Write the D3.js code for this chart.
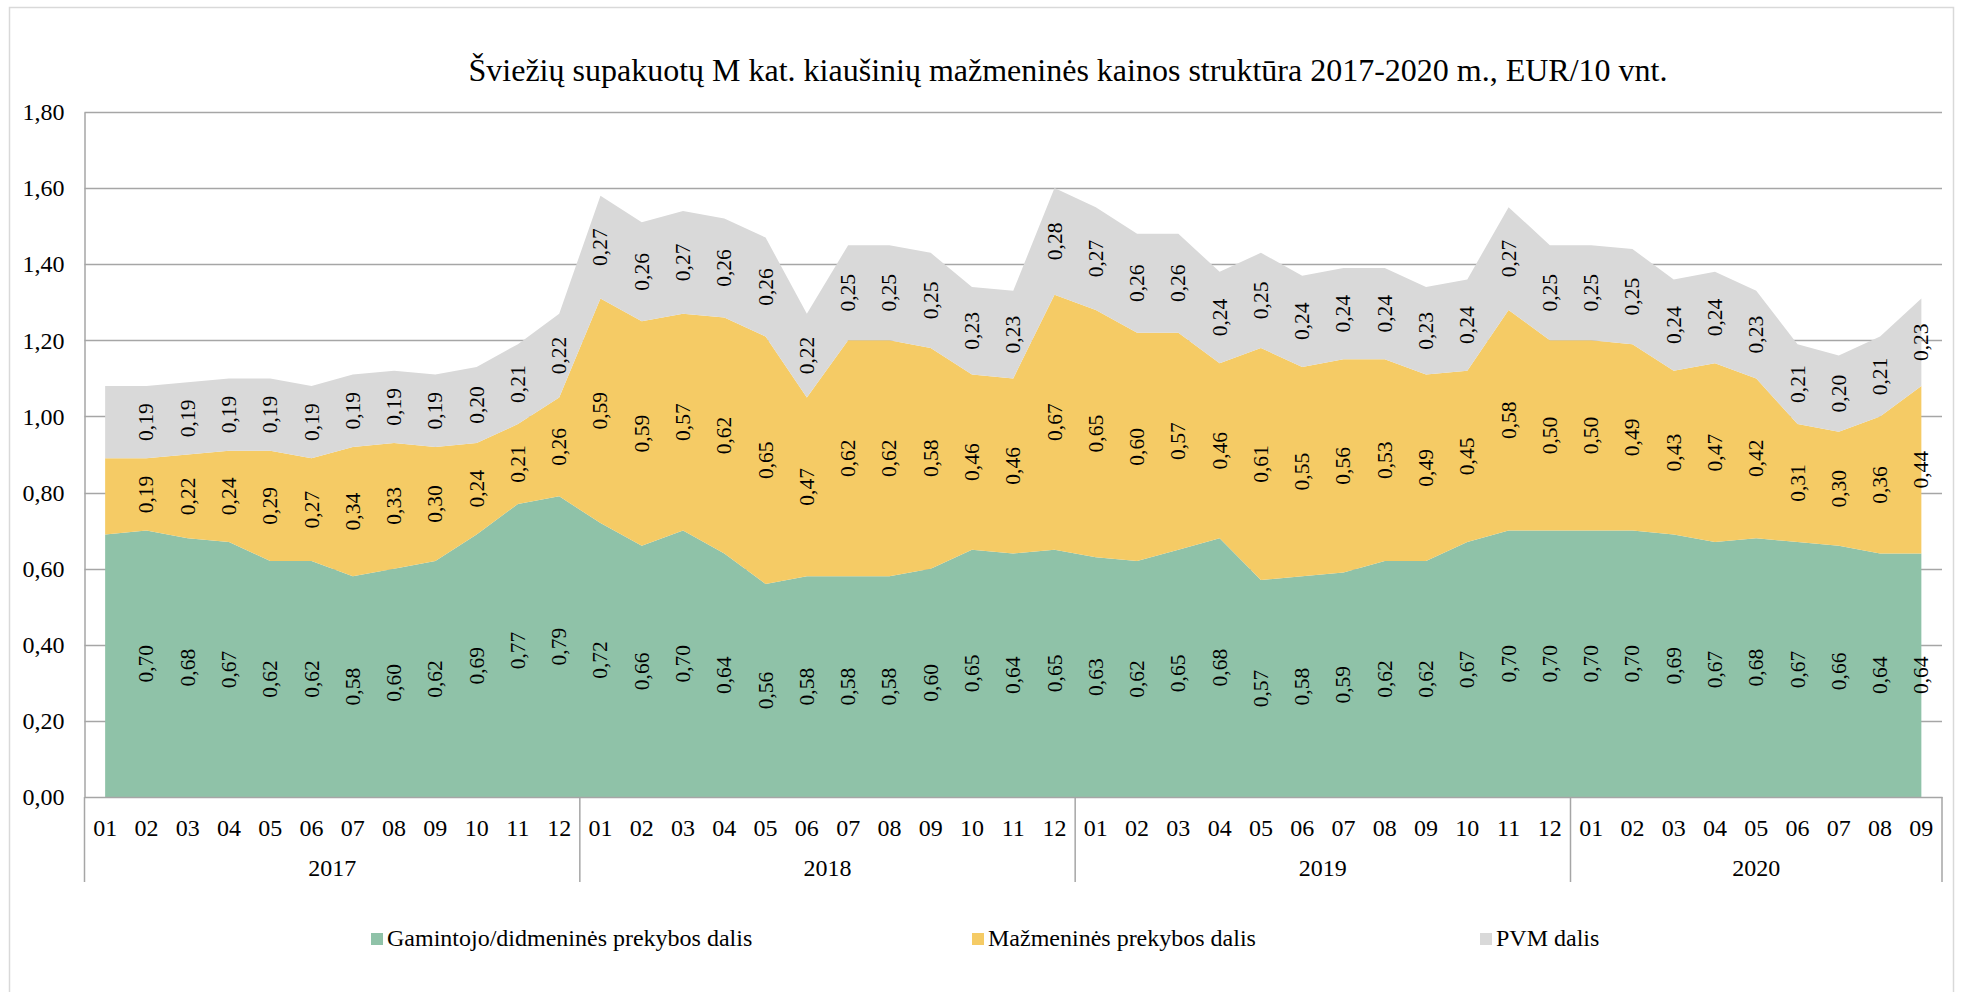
<!DOCTYPE html>
<html>
<head>
<meta charset="utf-8">
<script src="https://cdn.jsdelivr.net/npm/d3@7/dist/d3.min.js"></script>
<style>
  html, body { margin: 0; padding: 0; background: #fff; }
  svg { display: block; font-family: "Liberation Serif", "Times New Roman", serif; }
</style>
</head>
<body>
<svg id="chart" width="1961" height="992"></svg>
<script>
const title = "Šviežių supakuotų M kat. kiaušinių mažmeninės kainos struktūra 2017-2020 m., EUR/10 vnt.";
const years = ["2017", "2018", "2019", "2020"];
const monthsPerYear = [12, 12, 12, 9];
const monthLabels = ["01","02","03","04","05","06","07","08","09","10","11","12"];
const yTicks = [0, 0.2, 0.4, 0.6, 0.8, 1.0, 1.2, 1.4, 1.6, 1.8];
const seriesNames = ["Gamintojo/didmeninės prekybos dalis", "Mažmeninės prekybos dalis", "PVM dalis"];
const seriesColors = ["#8FC2A8", "#F5CB65", "#D9D9D9"];

const producer = [0.69, 0.70, 0.68, 0.67, 0.62, 0.62, 0.58, 0.60, 0.62, 0.69, 0.77, 0.79,
                  0.72, 0.66, 0.70, 0.64, 0.56, 0.58, 0.58, 0.58, 0.60, 0.65, 0.64, 0.65,
                  0.63, 0.62, 0.65, 0.68, 0.57, 0.58, 0.59, 0.62, 0.62, 0.67, 0.70, 0.70,
                  0.70, 0.70, 0.69, 0.67, 0.68, 0.67, 0.66, 0.64, 0.64];
const retail   = [0.20, 0.19, 0.22, 0.24, 0.29, 0.27, 0.34, 0.33, 0.30, 0.24, 0.21, 0.26,
                  0.59, 0.59, 0.57, 0.62, 0.65, 0.47, 0.62, 0.62, 0.58, 0.46, 0.46, 0.67,
                  0.65, 0.60, 0.57, 0.46, 0.61, 0.55, 0.56, 0.53, 0.49, 0.45, 0.58, 0.50,
                  0.50, 0.49, 0.43, 0.47, 0.42, 0.31, 0.30, 0.36, 0.44];
const vat      = [0.19, 0.19, 0.19, 0.19, 0.19, 0.19, 0.19, 0.19, 0.19, 0.20, 0.21, 0.22,
                  0.27, 0.26, 0.27, 0.26, 0.26, 0.22, 0.25, 0.25, 0.25, 0.23, 0.23, 0.28,
                  0.27, 0.26, 0.26, 0.24, 0.25, 0.24, 0.24, 0.24, 0.23, 0.24, 0.27, 0.25,
                  0.25, 0.25, 0.24, 0.24, 0.23, 0.21, 0.20, 0.21, 0.23];

(function () {
const cats = [];
years.forEach((yv, yi) => {
  for (let m = 0; m < monthsPerYear[yi]; m++) cats.push({ year: yv, month: monthLabels[m] });
});
const keys = ["producer", "retail", "vat"];
const table = cats.map((c, i) => ({ i, producer: producer[i], retail: retail[i], vat: vat[i] }));

const svg = d3.select("#chart");
const pLeft = 84.5, pRight = 1942, pTop = 112, pBottom = 797;

svg.append("rect").attr("x", 9.5).attr("y", 7.5).attr("width", 1944).attr("height", 1000)
  .attr("fill", "none").attr("stroke", "#D9D9D9").attr("stroke-width", 1.5);

const x = d3.scaleBand().domain(d3.range(cats.length)).range([pLeft, pRight]).padding(0);
const xc = i => x(i) + x.bandwidth() / 2;
const y = d3.scaleLinear().domain([0, 1.8]).range([pBottom, pTop]);

svg.append("g").selectAll("line").data(yTicks.filter(t => t > 0)).join("line")
  .attr("x1", pLeft).attr("x2", pRight)
  .attr("y1", d => Math.round(y(d)) + 0.5).attr("y2", d => Math.round(y(d)) + 0.5)
  .attr("stroke", "#A6A6A6").attr("stroke-width", 1.5);

const stacked = d3.stack().keys(keys)(table);
const area = d3.area()
  .x(d => xc(d.data.i))
  .y0(d => y(d[0]))
  .y1(d => y(d[1]));
svg.append("g").selectAll("path").data(stacked).join("path")
  .attr("d", area).attr("fill", (d, i) => seriesColors[i]);

const fmt = v => d3.format(".2f")(v).replace(".", ",");
const lblG = svg.append("g").attr("font-size", 21.5).attr("fill", "#000");
stacked.forEach(s => {
  s.forEach((d, i) => {
    if (i === 0) return;
    const cx = xc(i), cy = y((d[0] + d[1]) / 2);
    lblG.append("text")
      .attr("transform", `translate(${cx + 7},${cy}) rotate(-90)`)
      .attr("text-anchor", "middle")
      .text(fmt(d[1] - d[0]));
  });
});

const yAxis = d3.axisLeft(y).tickValues(yTicks).tickSize(0).tickPadding(20)
  .tickFormat(d => d3.format(".2f")(d).replace(".", ","));
const gy = svg.append("g").attr("transform", `translate(${pLeft},0)`).call(yAxis);
gy.attr("font-family", null);
gy.select(".domain").attr("stroke", "#A6A6A6").attr("stroke-width", 1.5);
gy.selectAll("text").attr("font-size", 24).attr("fill", "#000").attr("dy", "0.32em");

const xAxis = d3.axisBottom(x).tickSize(0).tickPadding(22).tickFormat(i => cats[i].month);
const gx = svg.append("g").attr("transform", `translate(0,${pBottom})`).call(xAxis);
gx.attr("font-family", null);
gx.select(".domain").attr("stroke", "#A6A6A6").attr("stroke-width", 1.5);
gx.selectAll("text").attr("font-size", 24).attr("fill", "#000");

let start = 0;
const seps = [0];
years.forEach((yr, yi) => {
  const end = start + monthsPerYear[yi];
  seps.push(end);
  const x0 = x(start), x1 = end < cats.length ? x(end) : pRight;
  svg.append("text").attr("x", (x0 + x1) / 2).attr("y", 876)
    .attr("text-anchor", "middle").attr("font-size", 24).text(yr);
  start = end;
});
svg.append("g").selectAll("line").data(seps).join("line")
  .attr("x1", d => d < cats.length ? x(d) : pRight).attr("x2", d => d < cats.length ? x(d) : pRight)
  .attr("y1", pBottom).attr("y2", 882)
  .attr("stroke", "#A6A6A6").attr("stroke-width", 1.5);

svg.append("text").attr("x", 1068).attr("y", 81).attr("text-anchor", "middle")
  .attr("font-size", 32).attr("fill", "#000").text(title);

const legendX = [371, 972, 1480];
const lg = svg.append("g");
seriesNames.forEach((n, i) => {
  lg.append("rect").attr("x", legendX[i]).attr("y", 933).attr("width", 12).attr("height", 12)
    .attr("fill", seriesColors[i]);
  lg.append("text").attr("x", legendX[i] + 16).attr("y", 946).attr("font-size", 24).text(n);
});
})();
</script>
</body>
</html>
